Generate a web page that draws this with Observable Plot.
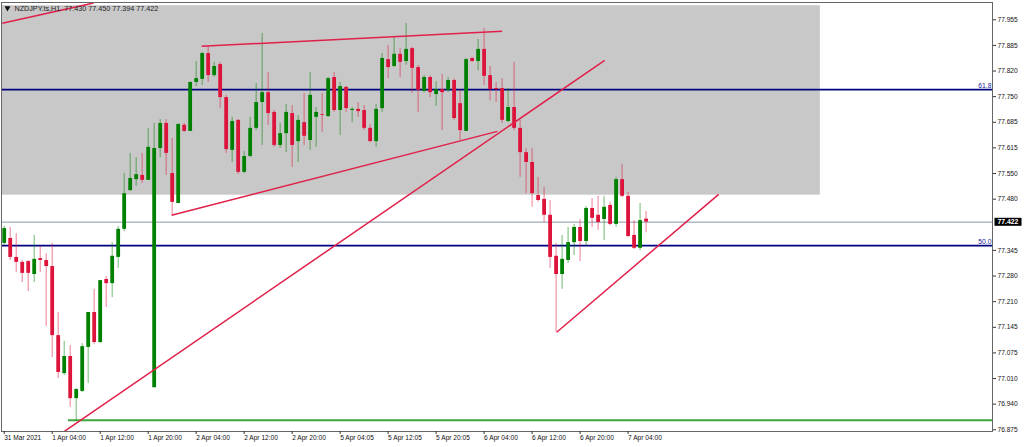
<!DOCTYPE html>
<html><head><meta charset="utf-8">
<script src="https://cdn.jsdelivr.net/npm/d3@7"></script>
<script src="https://cdn.jsdelivr.net/npm/@observablehq/plot@0.6"></script>
<style>html,body{margin:0;padding:0;background:#fff;overflow:hidden}</style>
</head><body><div id="chart"></div>
<script>
// ---- data (NZDJPY H1) ----
const symbolHeader = "NZDJPY.ts,H1  77.430 77.450 77.394 77.422";

const open = [77.366,77.379,77.329,77.316,77.318,77.284,77.326,77.321,77.305,77.123,
77.023,77.068,76.957,76.976,77.092,77.184,77.105,77.271,77.260,77.329,
77.403,77.505,77.534,77.545,77.532,76.986,77.616,77.682,77.550,77.471,
77.677,77.661,77.790,77.798,77.866,77.808,77.837,77.750,77.611,77.690,
77.553,77.595,77.669,77.737,77.763,77.711,77.624,77.655,77.708,77.634,
77.684,77.637,77.698,77.705,77.700,77.803,77.716,77.777,77.716,77.719,
77.716,77.669,77.634,77.721,77.850,77.832,77.864,77.845,77.879,77.829,
77.766,77.803,77.758,77.771,77.769,77.795,77.734,77.661,77.853,77.845,
77.877,77.808,77.774,77.774,77.687,77.724,77.669,77.605,77.579,77.492,
77.482,77.440,77.332,77.284,77.321,77.368,77.408,77.371,77.458,77.440,
77.429,77.466,77.416,77.534,77.490,77.387,77.353,77.430];

const high = [77.411,77.408,77.392,77.321,77.321,77.387,77.358,77.339,77.366,77.184,
77.108,77.097,76.984,77.102,77.184,77.245,77.268,77.279,77.368,77.411,
77.550,77.603,77.592,77.603,77.669,77.682,77.692,77.692,77.642,77.682,
77.682,77.790,77.845,77.869,77.885,77.843,77.843,77.756,77.698,77.692,
77.608,77.698,77.787,77.919,77.816,77.716,77.682,77.732,77.729,77.703,
77.761,77.816,77.724,77.761,77.803,77.816,77.790,77.779,77.724,77.737,
77.729,77.679,77.732,77.866,77.887,77.911,77.879,77.945,77.882,77.835,
77.808,77.808,77.792,77.811,77.803,77.800,77.769,77.853,77.856,77.903,
77.932,77.832,77.790,77.800,77.774,77.843,77.690,77.616,77.616,77.540,
77.513,77.479,77.366,77.387,77.408,77.416,77.429,77.463,77.484,77.490,
77.490,77.474,77.540,77.574,77.500,77.426,77.471,77.450];

const low = [77.360,77.321,77.289,77.263,77.239,77.263,77.289,77.147,77.065,77.010,
77.018,76.934,76.899,76.973,76.997,77.100,77.102,77.197,77.223,77.300,
77.397,77.503,77.516,77.524,77.532,76.986,77.592,77.545,77.440,77.471,
77.658,77.661,77.779,77.782,77.790,77.803,77.721,77.603,77.579,77.547,
77.550,77.592,77.663,77.624,77.677,77.619,77.616,77.605,77.566,77.579,
77.624,77.611,77.619,77.658,77.698,77.711,77.650,77.711,77.684,77.698,
77.663,77.632,77.619,77.711,77.800,77.829,77.803,77.835,77.761,77.711,
77.763,77.750,77.727,77.663,77.763,77.690,77.637,77.661,77.843,77.821,
77.782,77.742,77.737,77.682,77.684,77.663,77.540,77.497,77.461,77.474,
77.421,77.300,77.131,77.245,77.313,77.334,77.318,77.360,77.408,77.400,
77.374,77.413,77.408,77.487,77.382,77.350,77.347,77.394];

const close = [77.405,77.329,77.316,77.287,77.287,77.324,77.321,77.305,77.123,77.026,
77.068,76.957,76.981,77.094,77.184,77.105,77.268,77.260,77.332,77.403,
77.497,77.537,77.547,77.532,77.619,77.616,77.682,77.603,77.474,77.679,
77.661,77.790,77.800,77.866,77.808,77.832,77.750,77.613,77.687,77.553,
77.595,77.669,77.737,77.763,77.708,77.624,77.655,77.711,77.624,77.690,
77.648,77.756,77.711,77.703,77.800,77.716,77.779,77.721,77.719,77.713,
77.669,77.634,77.719,77.853,77.829,77.864,77.843,77.877,77.827,77.769,
77.803,77.763,77.771,77.763,77.795,77.695,77.663,77.850,77.845,77.877,
77.806,77.771,77.771,77.690,77.724,77.669,77.605,77.579,77.497,77.479,
77.440,77.329,77.284,77.324,77.368,77.408,77.371,77.458,77.432,77.421,
77.461,77.416,77.534,77.490,77.384,77.353,77.426,77.422];

const timeTickIndex = [0,8,16,24,32,40,48,56,64,72,80,88,96,104];
const timeTickLabels = ["31 Mar 2021","1 Apr 04:00","1 Apr 12:00","1 Apr 20:00","2 Apr 04:00",
  "2 Apr 12:00","2 Apr 20:00","5 Apr 04:05","5 Apr 12:05","5 Apr 20:05","6 Apr 04:00",
  "6 Apr 12:00","6 Apr 20:00","7 Apr 04:00"];

const priceTicks = [77.955,77.8875,77.82,77.7525,77.685,77.6175,77.55,77.4825,
  77.3475,77.28,77.2125,77.145,77.0775,77.01,76.9425,76.875];
const priceTickLabels = ["77.955","77.885","77.820","77.750","77.685","77.615","77.550","77.480",
  "77.345","77.280","77.210","77.145","77.075","77.010","76.940","76.875"];

const currentPrice = 77.422;
const fibLevels = [77.771, 77.360];
const fibLabels = ["61.8", "50.0"];
const supportLine = [{x1: 10.7, x2: 164.75, y: 76.900}];
const zone = [{x1: -0.45, x2: 136.05, y1: 77.493, y2: 77.992}];
const trendLines = [
  {x1: -0.32, y1: 77.946, x2: 14.9, y2: 77.999},
  {x1: 32.9,  y1: 77.885, x2: 83.0, y2: 77.925},
  {x1: 27.9,  y1: 77.440, x2: 82.2, y2: 77.661},
  {x1: 9.4,   y1: 76.864, x2: 100.1, y2: 77.848},
  {x1: 92.1,  y1: 77.132, x2: 119.1, y2: 77.495}
];

// ---- build ----
const candles = open.map((o, i) => ({i, o, h: high[i], l: low[i], c: close[i], up: close[i] >= o}));
const timeLabelMap = new Map(timeTickIndex.map((v, i) => [v, timeTickLabels[i]]));
const priceLabelMap = new Map(priceTicks.map((v, i) => [v, priceTickLabels[i]]));

const GREEN = "#008000", RED = "#DC143C";
const FONT = "Liberation Sans, Arial, sans-serif";

const svg = Plot.plot({
  width: 1024, height: 447,
  marginLeft: 1, marginRight: 32, marginTop: 2, marginBottom: 16,
  style: {fontFamily: FONT, background: "#fff", color: "#111"},
  x: {domain: [-0.45, 164.75], axis: null},
  y: {domain: [76.8705, 78.0005], axis: null},
  color: {type: "identity"},
  marks: [
    Plot.rect(zone, {x1: "x1", x2: "x2", y1: "y1", y2: "y2", fill: "#C8C8C8"}),
    Plot.ruleY([currentPrice], {stroke: "#8796a6", strokeWidth: 1}),
    Plot.ruleY(fibLevels, {stroke: "#000080", strokeWidth: 1.6}),
    Plot.ruleY(supportLine, {x1: "x1", x2: "x2", y: "y", stroke: "#3da53d", strokeWidth: 2}),
    Plot.ruleX(candles, {x: "i", y1: "l", y2: "h", stroke: d => d.up ? GREEN : RED, strokeOpacity: 0.55, strokeWidth: 1}),
    Plot.ruleX(candles, {x: "i", y1: "o", y2: "c", stroke: d => d.up ? GREEN : RED, strokeWidth: 3.8}),
    Plot.link(trendLines, {x1: "x1", y1: "y1", x2: "x2", y2: "y2", stroke: "#E0204A", strokeWidth: 1.5, clip: true}),
    Plot.text(fibLevels, {y: d => d, text: (d, i) => fibLabels[i], frameAnchor: "right", textAnchor: "end",
      lineAnchor: "bottom", dx: -1, dy: -1.5, fill: "#1c1c9c", fontSize: 6.8}),
    Plot.text([symbolHeader], {frameAnchor: "top-left", dx: 13, dy: 3, lineAnchor: "top", textAnchor: "start",
      fill: "#222", fontSize: 7.2}),
    Plot.dot([symbolHeader], {frameAnchor: "top-left", dx: 6, dy: 5.5, symbol: "triangle", rotate: 180, r: 2.2, fill: "#111", stroke: "none"}),
    Plot.frame({stroke: "#666"}),
    Plot.axisY(priceTicks, {anchor: "right", tickSize: 3, tickPadding: 2, tickFormat: d => priceLabelMap.get(d),
      fontSize: 6.6, label: null, stroke: "#333"}),
    Plot.axisX(timeTickIndex, {anchor: "bottom", tickSize: 3, tickPadding: 1, textAnchor: "start",
      tickFormat: d => timeLabelMap.get(d), fontSize: 6.6, label: null, stroke: "#333"}),
    Plot.text([currentPrice], {y: d => d, text: d => d.toFixed(3), frameAnchor: "right", dx: 5, textAnchor: "start",
      fill: "#fff", fontWeight: "bold", fontSize: 6.8})
  ]
});
document.getElementById("chart").append(svg);

// black box behind the current price label
const svgBox = svg.getBoundingClientRect();
const priceText = Array.from(svg.querySelectorAll("text")).find(t => t.textContent === currentPrice.toFixed(3));
if (priceText) {
  const b = priceText.getBoundingClientRect();
  let top = priceText;
  while (top.parentNode && top.parentNode !== svg) top = top.parentNode;
  const r = document.createElementNS("http://www.w3.org/2000/svg", "rect");
  r.setAttribute("x", b.x - svgBox.x - 3);
  r.setAttribute("y", b.y - svgBox.y - 0.5);
  r.setAttribute("width", b.width + 6);
  r.setAttribute("height", b.height + 1);
  r.setAttribute("fill", "#000");
  svg.insertBefore(r, top);
}
</script>
</body></html>
